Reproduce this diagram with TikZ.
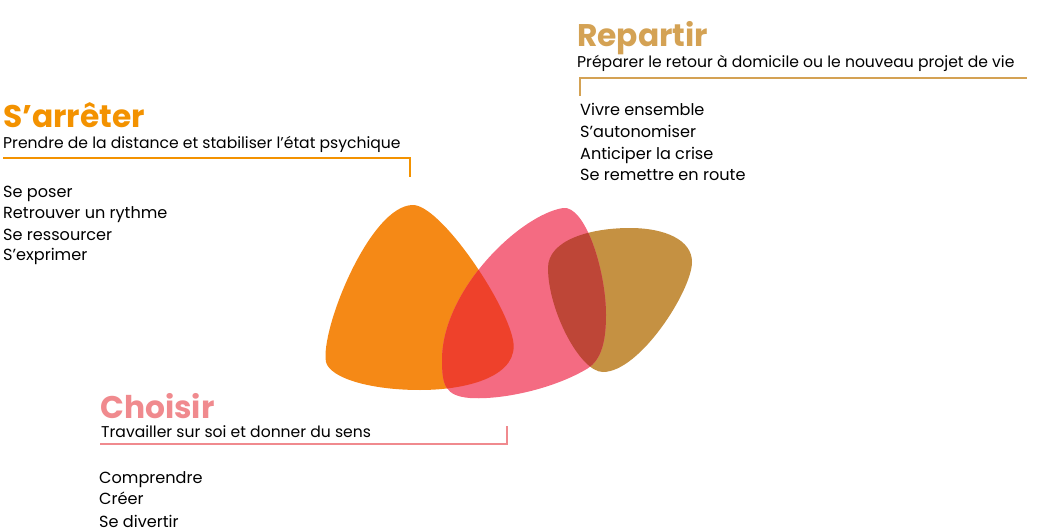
\documentclass[tikz,border=0pt]{standalone}
\usepackage{fontspec}
\setmainfont{Poppins}
\definecolor{cOrange}{RGB}{245,137,22}
\definecolor{cPink}{RGB}{244,107,130}
\definecolor{cGold}{RGB}{197,145,66}
\definecolor{cRed}{RGB}{238,65,43}
\definecolor{cBrown}{RGB}{190,70,55}
\definecolor{tOrange}{RGB}{243,146,0}
\definecolor{tGold}{RGB}{212,162,84}
\definecolor{tPink}{RGB}{240,138,142}
\begin{document}
\begin{tikzpicture}[x=1pt,y=-1pt,
  title/.style={anchor=base west,inner sep=0pt,font=\fontsize{31.3}{31}\selectfont\bfseries},
  sub/.style={anchor=base west,inner sep=0pt,font=\fontsize{15.6}{15}\selectfont},
  item/.style={anchor=base west,inner sep=0pt,font=\fontsize{16.1}{16}\selectfont},
  rule/.style={line width=1.5pt}]
\useasboundingbox (0,0) rectangle (1038,532);
% shapes
\def\orangepath{(413,205) .. controls (440,205) and (505,300) .. (513,340)
 .. controls (520,375) and (470,390) .. (420,390)
 .. controls (370,390) and (330,378) .. (326,362)
 .. controls (320,330) and (370,205) .. (413,205) -- cycle}
\def\pinkpath{(563,208) .. controls (585,205) and (606,270) .. (606,315)
 .. controls (606,345) and (600,362) .. (585,370)
 .. controls (550,390) and (500,400) .. (470,398)
 .. controls (445,396) and (442,385) .. (442,360)
 .. controls (442,290) and (520,215) .. (563,208) -- cycle}
\def\goldpath{(548,268) .. controls (548,240) and (590,228) .. (630,228)
 .. controls (665,228) and (692,240) .. (692,262)
 .. controls (692,290) and (640,372) .. (603,372)
 .. controls (580,372) and (548,310) .. (548,268) -- cycle}
\fill[cOrange] \orangepath;
\fill[cGold] \goldpath;
\fill[cPink] \pinkpath;
\begin{scope}
\clip \orangepath;
\fill[cRed] \pinkpath;
\end{scope}
\begin{scope}
\clip \goldpath;
\fill[cBrown] \pinkpath;
\end{scope}
% S'arreter
\node[title,text=tOrange] (t1) at (3,128) {S’arrêter};
\node[sub] (s1) at (3,148) {Prendre de la distance et stabiliser l’état psychique};
\coordinate (l1a) at (3,158);
\coordinate (l1b) at (410,158);
\coordinate (l1c) at (410,177);
\draw[rule,tOrange] (l1a) -- (l1b) -- (l1c);
\node[item] (i11) at (3,197) {Se poser};
\node[item] (i12) at (3,218) {Retrouver un rythme};
\node[item] (i13) at (3,240) {Se ressourcer};
\node[item] (i14) at (3,260) {S’exprimer};
% Repartir
\node[title,text=tGold] (t2) at (577,47) {Repartir};
\node[sub] (s2) at (577,68) {Préparer le retour à domicile ou le nouveau projet de vie};
\coordinate (l2a) at (580,96);
\coordinate (l2b) at (580,78);
\coordinate (l2c) at (1027,78);
\draw[rule,tGold] (l2a) -- (l2b) -- (l2c);
\node[item] (i21) at (580,116) {Vivre ensemble};
\node[item] (i22) at (580,138) {S’autonomiser};
\node[item] (i23) at (580,159) {Anticiper la crise};
\node[item] (i24) at (580,180) {Se remettre en route};
% Choisir
\node[title,text=tPink] (t3) at (100,418) {Choisir};
\node[sub] (s3) at (101,437) {Travailler sur soi et donner du sens};
\coordinate (l3a) at (100,444);
\coordinate (l3b) at (507,444);
\coordinate (l3c) at (507,426);
\draw[rule,tPink] (l3a) -- (l3b) -- (l3c);
\node[item] (i31) at (99,483) {Comprendre};
\node[item] (i32) at (99,504) {Créer};
\node[item] (i33) at (99,527) {Se divertir};
\end{tikzpicture}
\end{document}
